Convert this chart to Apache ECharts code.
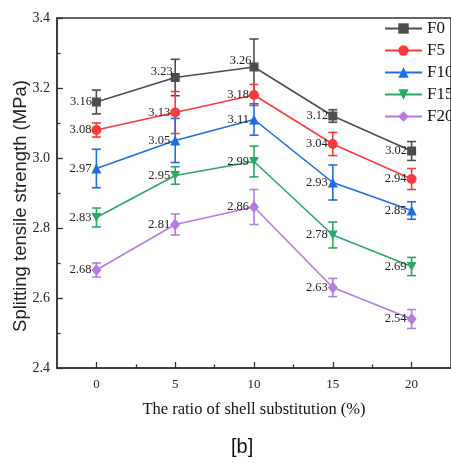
<!DOCTYPE html>
<html><head><meta charset="utf-8">
<script src="https://cdn.jsdelivr.net/npm/echarts@6/dist/echarts.min.js"></script>
<style>html,body{margin:0;padding:0;background:#fff}#c{width:451px;height:463px}</style>
</head><body><div id="c"></div>
<script>
const xValues = [0, 5, 10, 15, 20];
const seriesNames = ['F0', 'F5', 'F10', 'F15', 'F20'];
const F0 = [3.16, 3.23, 3.26, 3.12, 3.02];
const F5 = [3.08, 3.13, 3.18, 3.04, 2.94];
const F10 = [2.97, 3.05, 3.11, 2.93, 2.85];
const F15 = [2.83, 2.95, 2.99, 2.78, 2.69];
const F20 = [2.68, 2.81, 2.86, 2.63, 2.54];
const errF0 = [0.034, 0.052, 0.08, 0.018, 0.027];
const errF5 = [0.02, 0.06, 0.03, 0.033, 0.03];
const errF10 = [0.055, 0.063, 0.045, 0.05, 0.025];
const errF15 = [0.027, 0.025, 0.044, 0.037, 0.026];
const errF20 = [0.02, 0.03, 0.05, 0.026, 0.027];
const yTicks = [2.4, 2.6, 2.8, 3.0, 3.2, 3.4];
const xMinorTicks = [2.5, 7.5, 12.5, 17.5];

const means = [F0, F5, F10, F15, F20];
const errs = [errF0, errF5, errF10, errF15, errF20];
const colors = ['#4d4d4d', '#f53b3b', '#1f6de0', '#2aa866', '#b47ce0'];
const symbols = ['rect', 'circle', 'triangle', 'path://M0,0 L10,0 L5,9 Z', 'diamond'];
const symbolSizes = [9, 10, 10, [10, 9], [10, 12]];

const chart = echarts.init(document.getElementById('c'), null, {renderer: 'canvas'});
const serif = 'Liberation Serif, Times New Roman, serif';
const sans = 'Liberation Sans, Arial, sans-serif';

const series = [];
means.forEach((m, si) => {
  series.push({
    name: seriesNames[si] + '-err',
    type: 'custom',
    z: 1,
    data: xValues.map((x, i) => [x, m[i] - errs[si][i], m[i] + errs[si][i]]),
    renderItem: function (params, api) {
      const lo = api.coord([api.value(0), api.value(1)]);
      const hi = api.coord([api.value(0), api.value(2)]);
      const w = 4.5;
      const style = {stroke: colors[si], lineWidth: 1.6};
      return {
        type: 'group',
        children: [
          {type: 'line', shape: {x1: lo[0], y1: lo[1], x2: hi[0], y2: hi[1]}, style},
          {type: 'line', shape: {x1: lo[0] - w, y1: lo[1], x2: lo[0] + w, y2: lo[1]}, style},
          {type: 'line', shape: {x1: hi[0] - w, y1: hi[1], x2: hi[0] + w, y2: hi[1]}, style}
        ]
      };
    }
  });
});
means.forEach((m, si) => {
  series.push({
    name: seriesNames[si],
    type: 'line',
    z: 3,
    data: xValues.map((x, i) => {
      const d = {value: [x, m[i]]};
      if (si === 0 && (i === 1 || i === 2)) d.label = {offset: [2, -6]};
      return d;
    }),
    symbol: symbols[si],
    symbolSize: symbolSizes[si],
    color: colors[si],
    lineStyle: {color: colors[si], width: 1.6},
    itemStyle: {color: colors[si]},
    label: {
      show: true, position: 'left', distance: 0,
      formatter: p => p.value[1].toFixed(2),
      fontFamily: serif, fontSize: 12.5, color: '#222'
    },
    emphasis: {disabled: true}
  });
});

const option = {
  animation: false,
  backgroundColor: '#fff',
  grid: [
    {left: 57, top: 18, width: 400, height: 350, show: true, borderColor: '#333', borderWidth: 1.5, containLabel: false},
    {left: 57, top: 18, width: 400, height: 350, containLabel: false}
  ],
  legend: {
    data: seriesNames,
    orient: 'vertical',
    left: 384, top: 20, padding: 0,
    itemWidth: 37, itemHeight: 13, itemGap: 5,
    textStyle: {fontFamily: serif, fontSize: 17, color: '#111'}
  },
  xAxis: [
    {
      type: 'value', gridIndex: 0, min: -2.5, max: 22.5, interval: 2.5,
      name: 'The ratio of shell substitution (%)', nameLocation: 'middle', nameGap: 33,
      nameTextStyle: {fontFamily: serif, fontSize: 16.5, color: '#111'},
      axisLine: {show: true, onZero: false, lineStyle: {color: '#333', width: 1.5}},
      axisTick: {show: true, inside: true, length: 6, customValues: xValues, lineStyle: {color: '#333', width: 1.3}},
      axisLabel: {customValues: xValues, fontFamily: serif, fontSize: 13, color: '#222', margin: 10},
      splitLine: {show: false}
    },
    {
      type: 'value', gridIndex: 1, min: -2.5, max: 22.5, interval: 2.5,
      axisLine: {show: false, onZero: false},
      axisTick: {show: true, inside: true, length: 3.5, customValues: xMinorTicks, lineStyle: {color: '#333', width: 1.3}},
      axisLabel: {show: false},
      splitLine: {show: false}
    }
  ],
  yAxis: [
    {
      type: 'value', gridIndex: 0, min: 2.4, max: 3.4, interval: 0.2,
      axisLine: {show: true, onZero: false, lineStyle: {color: '#333', width: 1.5}},
      axisTick: {show: true, inside: true, length: 6, lineStyle: {color: '#333', width: 1.3}},
      minorTick: {show: true, splitNumber: 2, length: 3.5, lineStyle: {color: '#333', width: 1.3}},
      axisLabel: {fontFamily: serif, fontSize: 14, color: '#222', margin: 7, formatter: v => v.toFixed(1)},
      splitLine: {show: false}
    },
    {
      type: 'value', gridIndex: 1, min: 2.4, max: 3.4, show: false,
      axisLine: {onZero: false}
    }
  ],
  graphic: [
    {
      type: 'text', x: 21, y: 206, rotation: Math.PI / 2,
      style: {text: 'Splitting tensile strength (MPa)', font: '18.5px ' + sans, fill: '#222',
        align: 'center', verticalAlign: 'middle'}
    },
    {
      type: 'text', left: 231, top: 437,
      style: {text: '[b]', font: '20px ' + sans, fill: '#111'}
    }
  ],
  series: series
};
chart.setOption(option);
</script>
</body></html>
